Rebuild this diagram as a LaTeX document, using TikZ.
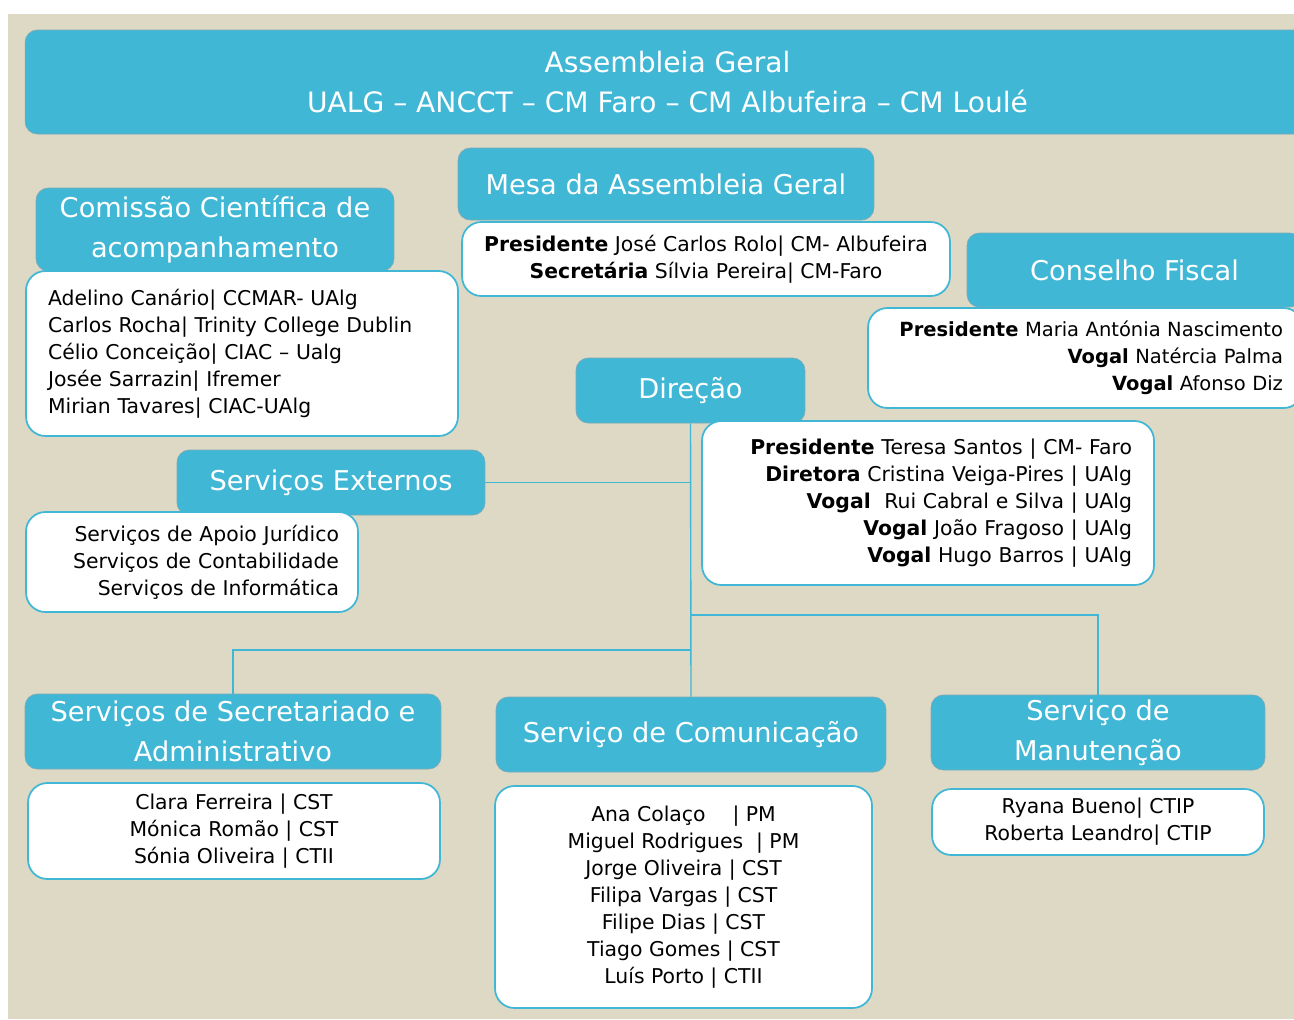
\documentclass[tikz,border=0pt]{standalone}
\usepackage{fontspec}
\setmainfont{DejaVu Sans}
\usepackage{tikz}
\usetikzlibrary{calc}
\definecolor{agblue}{RGB}{65,183,214}
\definecolor{agedge}{RGB}{120,170,185}
\definecolor{agbeige}{RGB}{222,217,196}
\newcommand{\titlefont}{\fontsize{16}{22.3}\selectfont}
\newcommand{\headfont}{\fontsize{15.5}{22.7}\selectfont}
\newcommand{\listfont}{\fontsize{11.6}{15.3}\selectfont}

\begin{document}
\begin{tikzpicture}[x=0.02cm,y=-0.02cm,
    head/.style={fill=agblue,draw=agedge,line width=0.4pt,rounded corners=7pt,
      text=white,font=\headfont,align=center,inner sep=0pt},
    lst/.style={fill=white,draw=agblue,line width=1pt,rounded corners=11pt,
      text=black,font=\listfont,inner xsep=0.44cm,inner ysep=0pt},
    link/.style={draw=agblue,line width=0.8pt}]
  \useasboundingbox (0,0) rectangle (1294,1019);
  \fill[white] (0,0) rectangle (1294,1019);
  \fill[agbeige] (8,14) rectangle (1294,1019);

  % heads
  \node[head,font=\titlefont,minimum width=25.7cm,minimum height=2.08cm] (ag) at (667.5,82)
    {Assembleia Geral\\UALG – ANCCT – CM Faro – CM Albufeira – CM Loulé};
  \node[head,minimum width=7.16cm,minimum height=1.66cm] (cc) at (215,229.5)
    {Comissão Científica de\\acompanhamento};
  \node[head,minimum width=8.32cm,minimum height=1.44cm] (mesa) at (666,184)
    {Mesa da Assembleia Geral};
  \node[head,minimum width=6.7cm,minimum height=1.48cm] (cons) at (1134.5,270)
    {Conselho Fiscal};
  \node[head,minimum width=4.58cm,minimum height=1.3cm] (dir) at (690.5,390.5)
    {Direção};
  \node[head,minimum width=6.16cm,minimum height=1.3cm] (ext) at (331,482.5)
    {Serviços Externos};
  \node[head,minimum width=8.32cm,minimum height=1.5cm] (sec) at (233,731.5)
    {Serviços de Secretariado e\\Administrativo};
  \node[head,minimum width=7.8cm,minimum height=1.5cm] (com) at (691,734.5)
    {Serviço de Comunicação};
  \node[head,minimum width=6.68cm,minimum height=1.5cm] (man) at (1098,732.5)
    {Serviço de\\Manutenção};

  % member lists
  \node[lst,text width=7.76cm,align=left,minimum height=3.3cm] (cclist) at (242,353.5)
    {Adelino Canário| CCMAR- UAlg\\Carlos Rocha| Trinity College Dublin\\
     Célio Conceição| CIAC – Ualg\\Josée Sarrazin| Ifremer\\Mirian Tavares| CIAC-UAlg};
  \node[lst,align=center,minimum width=9.72cm,minimum height=1.48cm] (mesalist) at (706,259)
    {\textbf{Presidente} José Carlos Rolo| CM- Albufeira\\
     \textbf{Secretária} Sílvia Pereira| CM-Faro};
  \node[lst,font=\fontsize{11.1}{15.3}\selectfont,text width=7.9cm,inner xsep=0.4cm,
      align=right,minimum height=2cm] (conslist) at (1085.5,358)
    {\textbf{Presidente} Maria Antónia Nascimento\\
     \textbf{Vogal} Natércia Palma\\\textbf{Vogal} Afonso Diz};
  \node[lst,text width=8.16cm,align=right,minimum height=3.28cm] (dirlist) at (928,503)
    {\textbf{Presidente} Teresa Santos | CM- Faro\\
     \textbf{Diretora} Cristina Veiga-Pires | UAlg\\
     \textbf{Vogal}\ \ Rui Cabral e Silva | UAlg\\
     \textbf{Vogal} João Fragoso | UAlg\\
     \textbf{Vogal} Hugo Barros | UAlg};
  \node[lst,text width=5.88cm,inner xsep=0.38cm,align=right,minimum height=2cm] (extlist) at (192,562)
    {Serviços de Apoio Jurídico\\Serviços de Contabilidade\\Serviços de Informática};
  \node[lst,align=center,minimum width=8.24cm,minimum height=1.92cm] (seclist) at (234,831)
    {Clara Ferreira | CST\\Mónica Romão | CST\\Sónia Oliveira | CTII};
  \node[lst,align=center,minimum width=7.54cm,minimum height=4.44cm] (comlist) at (683.5,897)
    {Ana Colaço\quad\ | PM\\Miguel Rodrigues\ \ | PM\\Jorge Oliveira | CST\\
     Filipa Vargas | CST\\Filipe Dias | CST\\Tiago Gomes | CST\\Luís Porto | CTII};
  \node[lst,align=center,minimum width=6.64cm,minimum height=1.32cm] (manlist) at (1098,822)
    {Ryana Bueno| CTIP\\Roberta Leandro| CTIP};

  % connectors
  \coordinate (j1) at (691,650);
  \coordinate (j2) at (691,615);
  \draw[link] (dir.south) -- (com.north);
  \draw[link] (ext.east) -- (ext.east -| dir.south);
  \draw[link] (sec.north) |- (j1);
  \draw[link] (man.north) |- (j2);
\end{tikzpicture}
\end{document}
